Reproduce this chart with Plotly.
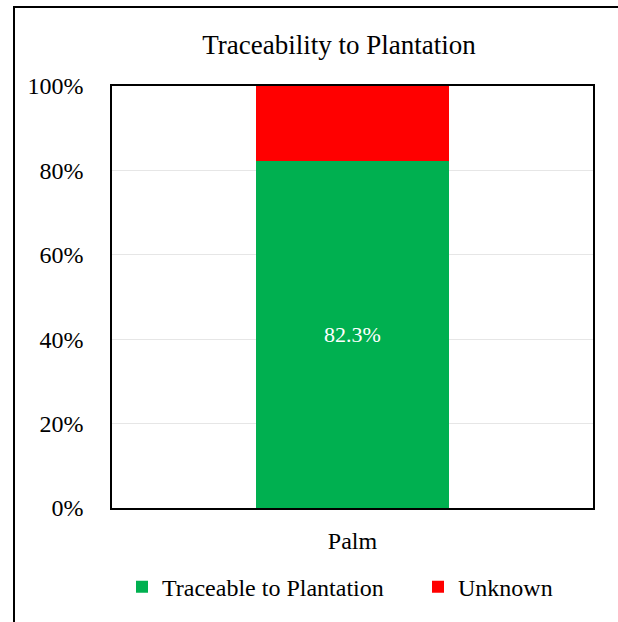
import plotly.graph_objects as go

categories = ["Palm"]
traceable = [0.823]
unknown = [0.177]
series_names = ["Traceable to Plantation", "Unknown"]
y_tick_vals = [0, 0.2, 0.4, 0.6, 0.8, 1.0]
y_tick_text = ["0%", "20%", "40%", "60%", "80%", "100%"]

FONT = "Liberation Serif, Times New Roman, serif"
W, H = 618, 622
L, R, T, B = 112, 593, 86, 513

fig = go.Figure()
fig.add_trace(go.Bar(
    x=categories, y=traceable, name=series_names[0],
    marker=dict(color="#00B050", line=dict(width=0)),
    texttemplate="%{y:.1%}", textposition="inside", insidetextanchor="middle",
    textfont=dict(family=FONT, size=22, color="white"),
    legend="legend",
))
fig.add_trace(go.Bar(
    x=categories, y=unknown, name=series_names[1],
    marker=dict(color="#FF0000", line=dict(width=0)),
    texttemplate="", hoverinfo="y",
    legend="legend2",
))

pw, ph = R - L, B - T
def px2x(px):
    return (px - L) / pw
def py2y(py):
    return (B - py) / ph

legend_common = dict(orientation="h", xanchor="left", y=py2y(593), yanchor="middle",
                     font=dict(family=FONT, size=24, color="black"),
                     bgcolor="rgba(0,0,0,0)", borderwidth=0)

fig.update_layout(
    barmode="stack",
    bargap=0.597,
    width=W, height=H, autosize=False,
    margin=dict(l=L, r=W - R, t=T, b=H - B, pad=0),
    paper_bgcolor="white", plot_bgcolor="white",
    font=dict(family=FONT, size=24, color="black"),
    title=dict(text="Traceability to Plantation", font=dict(family=FONT, size=27, color="black"),
               x=339 / W, xanchor="center", xref="container",
               y=1 - 45 / H, yanchor="middle", yref="container"),
    showlegend=True,
    legend=dict(x=px2x(122), **legend_common),
    legend2=dict(x=px2x(418), **legend_common),
    shapes=[dict(type="rect", xref="paper", yref="paper",
                 x0=px2x(14), x1=px2x(690), y0=py2y(690), y1=py2y(6),
                 line=dict(color="black", width=2), fillcolor="rgba(0,0,0,0)", layer="below")],
)
fig.update_xaxes(showline=True, linecolor="black", linewidth=1.5, mirror=True,
                 ticks="", ticklabelstandoff=10, showgrid=False,
                 tickfont=dict(family=FONT, size=24, color="black"))
fig.update_yaxes(range=[0, 1], tickvals=y_tick_vals, ticktext=y_tick_text,
                 showline=True, linecolor="black", linewidth=1.5, mirror=True,
                 showgrid=True, gridcolor="#E6E6E6", gridwidth=1,
                 ticks="", ticklabelstandoff=22, zeroline=False,
                 tickfont=dict(family=FONT, size=24, color="black"))

fig.write_html("out.html", config={"displayModeBar": False},
               post_script="document.body.style.margin='0px';")
